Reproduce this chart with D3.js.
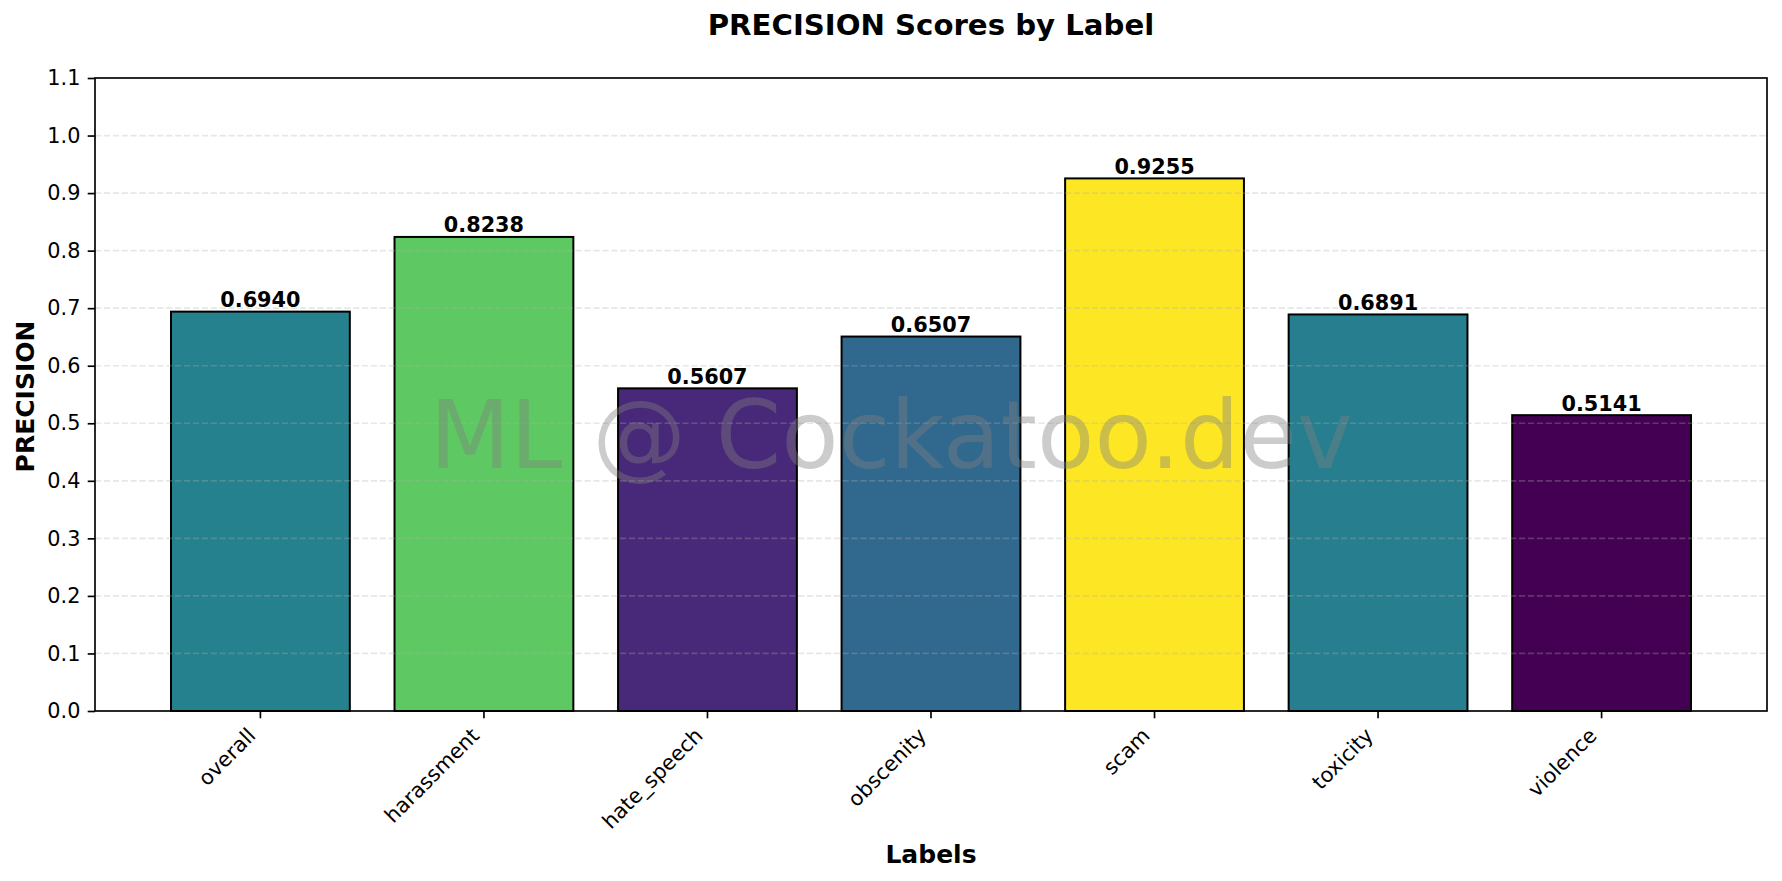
<!DOCTYPE html>
<html>
<head>
<meta charset="utf-8">
<script src="https://cdn.jsdelivr.net/npm/d3@7"></script>
<style>
  html, body { margin: 0; padding: 0; background: #fff; }
  svg { display: block; font-family: "DejaVu Sans", sans-serif; }
</style>
</head>
<body>
<svg id="chart" width="1782" height="881"></svg>
<script>
const categories = ["overall", "harassment", "hate_speech", "obscenity", "scam", "toxicity", "violence"];
const precisionValues = [0.6940, 0.8238, 0.5607, 0.6507, 0.9255, 0.6891, 0.5141];
const yTicks = [0.0, 0.1, 0.2, 0.3, 0.4, 0.5, 0.6, 0.7, 0.8, 0.9, 1.0, 1.1];
const titleText = "PRECISION Scores by Label";
const xLabelText = "Labels";
const yLabelText = "PRECISION";
const watermarkText = "ML @ Cockatoo.dev";

const svg = d3.select("#chart");
const W = 1782, H = 881;
const plot = { left: 95, right: 1767, top: 78, bottom: 711 };

svg.append("rect").attr("width", W).attr("height", H).attr("fill", "#fff");

const x = d3.scaleBand()
  .domain(categories)
  .range([plot.left, plot.right])
  .paddingInner(0.2)
  .paddingOuter(0.34);

const y = d3.scaleLinear().domain([0, 1.1]).range([plot.bottom, plot.top]);

const vMin = d3.min(precisionValues), vMax = d3.max(precisionValues);
const color = d3.scaleSequential(d3.interpolateViridis).domain([vMin, vMax]);

const data = categories.map((c, i) => ({ cat: c, val: precisionValues[i] }));

// bars
svg.append("g").selectAll("rect").data(data).join("rect")
  .attr("x", d => x(d.cat))
  .attr("y", d => y(d.val))
  .attr("width", x.bandwidth())
  .attr("height", d => y(0) - y(d.val))
  .attr("fill", d => color(d.val))
  .attr("stroke", "#000")
  .attr("stroke-width", 2);

// grid (drawn above bars)
svg.append("g").selectAll("line").data(yTicks.filter(t => t > 0 && t < 1.1)).join("line")
  .attr("x1", plot.left).attr("x2", plot.right)
  .attr("y1", d => y(d)).attr("y2", d => y(d))
  .attr("stroke", "#b0b0b0").attr("stroke-opacity", 0.3)
  .attr("stroke-width", 1.67).attr("stroke-dasharray", "6.2,2.7");

// value labels
svg.append("g").selectAll("text").data(data).join("text")
  .attr("x", d => x(d.cat) + x.bandwidth() / 2)
  .attr("y", d => y(d.val) - 4.5)
  .attr("text-anchor", "middle")
  .attr("font-size", "20.8px")
  .attr("font-weight", "bold")
  .attr("fill", "#000")
  .text(d => d.val.toFixed(4));

// watermark (centred on the figure)
svg.append("text")
  .attr("x", W / 2)
  .attr("y", 468)
  .attr("text-anchor", "middle")
  .attr("font-size", "93.75px")
  .attr("fill", "#808080")
  .attr("fill-opacity", 0.4)
  .text(watermarkText);

// axes frame
svg.append("rect")
  .attr("x", plot.left).attr("y", plot.top)
  .attr("width", plot.right - plot.left).attr("height", plot.bottom - plot.top)
  .attr("fill", "none").attr("stroke", "#000").attr("stroke-width", 1.67);

// y axis
const yAxis = d3.axisLeft(y).tickValues(yTicks).tickFormat(d3.format(".1f"))
  .tickSize(7.3).tickPadding(7.3);
const gy = svg.append("g").attr("transform", `translate(${plot.left},0)`).call(yAxis);
gy.select(".domain").remove();
gy.selectAll(".tick line").attr("stroke", "#000").attr("stroke-width", 1.67);
gy.selectAll(".tick text").attr("font-size", "20.8px").attr("fill", "#000")
  .attr("font-family", "DejaVu Sans, sans-serif");

// x axis
const xAxis = d3.axisBottom(x).tickSize(7.3).tickPadding(0);
const gx = svg.append("g").attr("transform", `translate(0,${plot.bottom})`).call(xAxis);
gx.select(".domain").remove();
gx.selectAll(".tick line").attr("stroke", "#000").attr("stroke-width", 1.67);
gx.selectAll(".tick text")
  .attr("font-size", "20.8px").attr("fill", "#000")
  .attr("font-family", "DejaVu Sans, sans-serif")
  .attr("text-anchor", "end")
  .attr("dy", null)
  .attr("x", -3.5).attr("y", 25.9)
  .attr("transform", "rotate(-45, -3.5, 25.9)");

// title
svg.append("text")
  .attr("x", (plot.left + plot.right) / 2).attr("y", 35)
  .attr("text-anchor", "middle")
  .attr("font-size", "29.2px").attr("font-weight", "bold")
  .text(titleText);

// x label
svg.append("text")
  .attr("x", (plot.left + plot.right) / 2).attr("y", 862.5)
  .attr("text-anchor", "middle")
  .attr("font-size", "25px").attr("font-weight", "bold")
  .text(xLabelText);

// y label
svg.append("text")
  .attr("transform", `translate(34, ${(plot.top + plot.bottom) / 2 + 2}) rotate(-90)`)
  .attr("text-anchor", "middle")
  .attr("font-size", "25px").attr("font-weight", "bold")
  .text(yLabelText);
</script>
</body>
</html>
